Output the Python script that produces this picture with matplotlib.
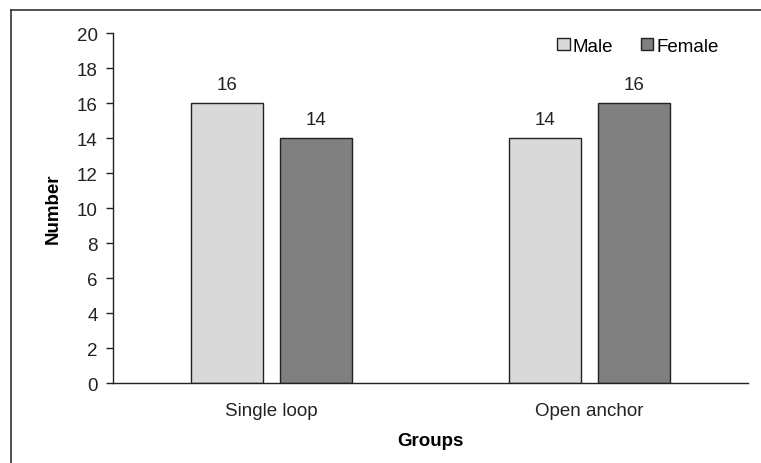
import matplotlib.pyplot as plt
import numpy as np
from matplotlib.lines import Line2D

plt.rcParams['font.family'] = ['Liberation Sans', 'DejaVu Sans']

groups = ['Single loop', 'Open anchor']
male = [16, 14]
female = [14, 16]
yticks = [0, 2, 4, 6, 8, 10, 12, 14, 16, 18, 20]

fs = 13.5
fig = plt.figure(figsize=(7.61, 4.64), dpi=100)
ax = fig.add_axes([0.1485, 0.1724, 0.8345, 0.7543])

x = np.arange(len(groups))
width = 0.227
off = 0.14
b1 = ax.bar(x - off, male, width, color='#d9d9d9', edgecolor='#222222', linewidth=1.0, label='Male')
b2 = ax.bar(x + off, female, width, color='#808080', edgecolor='#222222', linewidth=1.0, label='Female')

for rects in (b1, b2):
    for r in rects:
        h = r.get_height()
        ax.annotate(f'{h:g}', xy=(r.get_x() + r.get_width() / 2, h),
                    xytext=(0, 7), textcoords='offset points',
                    ha='center', va='bottom', fontsize=fs, color='#222222')

ax.set_xlim(-0.5, 1.5)
ax.set_ylim(0, 20)
ax.set_yticks(yticks)
ax.set_xticks(x)
ax.set_xticklabels(groups)
ax.tick_params(axis='y', labelsize=fs, length=5, width=1, colors='#222222', pad=6)
ax.tick_params(axis='x', labelsize=fs, length=0, pad=14, colors='#222222')

for s in ('top', 'right'):
    ax.spines[s].set_visible(False)
for s in ('left', 'bottom'):
    ax.spines[s].set_color('#222222')
    ax.spines[s].set_linewidth(1.0)

ax.set_ylabel('Number', fontsize=fs, fontweight='bold', labelpad=11)
ax.set_xlabel('Groups', fontsize=fs, fontweight='bold', labelpad=9)

ax.legend(loc='upper right', bbox_to_anchor=(0.98, 1.035), ncol=2, frameon=False,
          fontsize=fs, handlelength=0.65, handleheight=0.65, handletextpad=0.15,
          columnspacing=1.5)

# outer frame (left and top edges)
fig.add_artist(Line2D([11 / 761, 11 / 761], [0, 1 - 11 / 464], transform=fig.transFigure,
                      color='#333333', linewidth=1.2))
fig.add_artist(Line2D([11 / 761, 1], [1 - 11 / 464, 1 - 11 / 464], transform=fig.transFigure,
                      color='#333333', linewidth=1.2))

fig.savefig('out.png', dpi=100)
